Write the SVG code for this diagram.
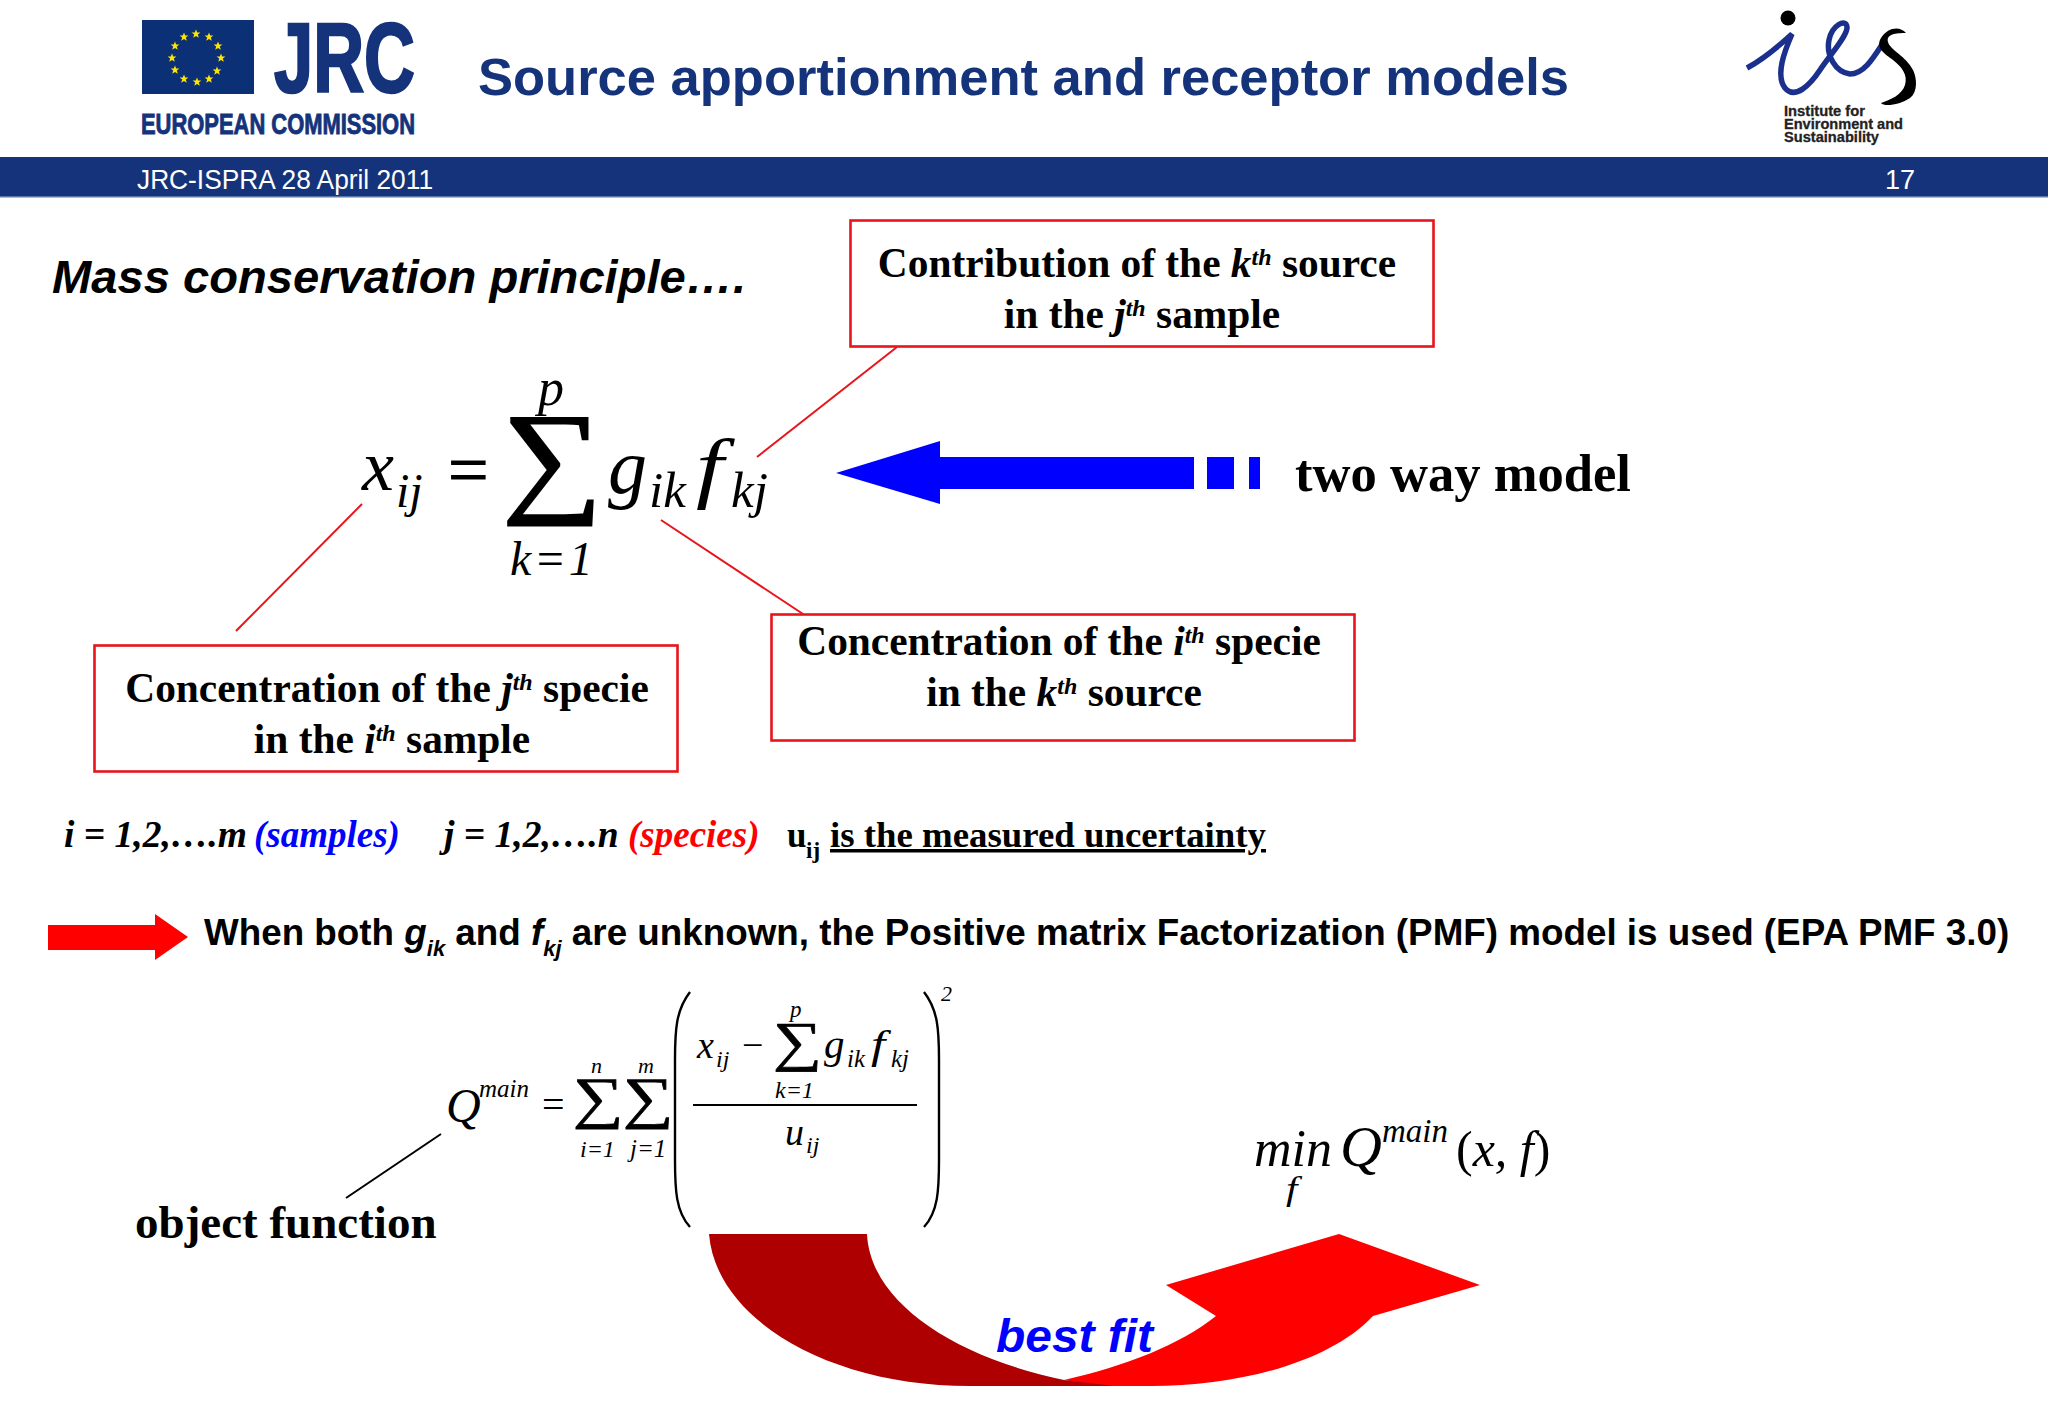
<svg xmlns="http://www.w3.org/2000/svg" xmlns:xlink="http://www.w3.org/1999/xlink" width="2048" height="1418" viewBox="0 0 2048 1418">
<style>
.sans{font-family:"Liberation Sans",Arial,sans-serif}
.serif{font-family:"Liberation Serif","Times New Roman",serif}
.b{font-weight:700}
.i{font-style:italic}
.box{fill:#fff;stroke:#e8141c;stroke-width:2.6}
.lead{stroke:#e8141c;stroke-width:2;fill:none}
.m{font-family:"Liberation Serif","Times New Roman",serif;font-style:italic;fill:#000}
.n{font-style:normal}
.navy{fill:#14337a}
.lbl{font-family:"Liberation Serif","Times New Roman",serif;font-weight:700;font-size:41.4px;fill:#000;text-anchor:middle}
.sup{font-size:24px;font-style:italic}
.it{font-style:italic}
</style>
<defs>
<polygon id="star" points="0,-4.6 1.2,-1.5 4.4,-1.4 1.8,0.6 2.8,3.8 0,1.9 -2.8,3.8 -1.8,0.6 -4.4,-1.4 -1.2,-1.5" fill="#ffe600"/>
</defs>
<rect width="2048" height="1418" fill="#fff"/>

<g id="header">
<rect x="0" y="157" width="2048" height="40" class="navy"/>
<rect x="0" y="196" width="2048" height="1.5" fill="#5a78b0"/>
<text x="137" y="189" class="sans" font-size="27" fill="#fff" textLength="296" lengthAdjust="spacingAndGlyphs">JRC-ISPRA 28 April 2011</text>
<text x="1885" y="189" class="sans" font-size="27" fill="#fff">17</text>
<text x="478" y="95" class="sans b navy" font-size="52" textLength="1091" lengthAdjust="spacingAndGlyphs">Source apportionment and receptor models</text>
</g>

<g id="logo-jrc">
<rect x="142" y="20" width="112" height="74" fill="#0c3076"/>
<use xlink:href="#star" href="#star" x="196" y="34"/>
<use xlink:href="#star" href="#star" x="209" y="37"/>
<use xlink:href="#star" href="#star" x="218" y="46"/>
<use xlink:href="#star" href="#star" x="221" y="58"/>
<use xlink:href="#star" href="#star" x="217" y="71"/>
<use xlink:href="#star" href="#star" x="209" y="79"/>
<use xlink:href="#star" href="#star" x="197" y="82"/>
<use xlink:href="#star" href="#star" x="184" y="79"/>
<use xlink:href="#star" href="#star" x="175" y="70"/>
<use xlink:href="#star" href="#star" x="172" y="58"/>
<use xlink:href="#star" href="#star" x="175" y="46"/>
<use xlink:href="#star" href="#star" x="184" y="37"/>
<text x="274" y="92" class="sans b navy" font-size="98" stroke="#14337a" stroke-width="2.5" textLength="141" lengthAdjust="spacingAndGlyphs">JRC</text>
<text x="141" y="134" class="sans b navy" font-size="29" stroke="#14337a" stroke-width="0.9" textLength="274" lengthAdjust="spacingAndGlyphs">EUROPEAN COMMISSION</text>
</g>

<g id="logo-ies">
<circle cx="1788" cy="18" r="7.5" fill="#000"/>
<path d="M1747,68 C1762,60 1780,45 1792,34 C1785,50 1775,75 1785,88 C1795,100 1810,85 1820,70 C1830,55 1848,35 1847,27 C1846,18 1832,25 1829,40 C1826,55 1835,72 1850,74 C1865,74 1875,55 1885,40" fill="none" stroke="#1b2f8c" stroke-width="5.5"/>
<path d="M1906,33 C1900,26 1888,27 1881,38 C1875,48 1885,54 1893,60 C1902,67 1908,75 1905,85 C1902,95 1890,100 1881,103 C1884,107 1900,105 1910,98 C1918,92 1917,78 1913,70 C1906,56 1890,50 1888,42 C1886,34 1896,33 1906,33Z" fill="#000"/>
<text x="1784" y="116" class="sans b" font-size="14" fill="#222" stroke="#222" stroke-width="0.3" textLength="81" lengthAdjust="spacingAndGlyphs">Institute for</text>
<text x="1784" y="129" class="sans b" font-size="14" fill="#222" stroke="#222" stroke-width="0.3" textLength="119" lengthAdjust="spacingAndGlyphs">Environment and</text>
<text x="1784" y="142" class="sans b" font-size="14" fill="#222" stroke="#222" stroke-width="0.3" textLength="95" lengthAdjust="spacingAndGlyphs">Sustainability</text>
</g>

<g id="heading">
<text x="52" y="293" class="sans b i" font-size="46" fill="#000" textLength="694" lengthAdjust="spacingAndGlyphs">Mass conservation principle….</text>
</g>

<g id="connectors">
<line class="lead" x1="757" y1="457" x2="897" y2="347"/>
<line class="lead" x1="362" y1="504" x2="236" y2="631"/>
<line class="lead" x1="661" y1="520" x2="803" y2="614"/>
<line x1="441" y1="1134" x2="346" y2="1198" stroke="#000" stroke-width="2"/>
</g>

<g id="box-contribution">
<rect class="box" x="850.5" y="220.5" width="583" height="126"/>
<text class="lbl" x="1137" y="277">Contribution of the <tspan class="it">k</tspan><tspan class="sup" dy="-12">th</tspan><tspan dy="12"> source</tspan></text>
<text class="lbl" x="1142" y="328">in the <tspan class="it">j</tspan><tspan class="sup" dy="-12">th</tspan><tspan dy="12"> sample</tspan></text>
</g>

<g id="box-concentration-sample">
<rect class="box" x="94.5" y="645.5" width="583" height="126"/>
<text class="lbl" x="387" y="702">Concentration of the <tspan class="it">j</tspan><tspan class="sup" dy="-12">th</tspan><tspan dy="12"> specie</tspan></text>
<text class="lbl" x="392" y="753">in the <tspan class="it">i</tspan><tspan class="sup" dy="-12">th</tspan><tspan dy="12"> sample</tspan></text>
</g>

<g id="box-concentration-source">
<rect class="box" x="771.5" y="614.5" width="583" height="126"/>
<text class="lbl" x="1059" y="655">Concentration of the <tspan class="it">i</tspan><tspan class="sup" dy="-12">th</tspan><tspan dy="12"> specie</tspan></text>
<text class="lbl" x="1064" y="706">in the <tspan class="it">k</tspan><tspan class="sup" dy="-12">th</tspan><tspan dy="12"> source</tspan></text>
</g>

<g id="equation-main">
<text class="m" x="362" y="490" font-size="72">x</text>
<text class="m" x="396" y="507" font-size="48">ij</text>
<text class="m n" x="448" y="494" font-size="72" stroke="#000" stroke-width="1">=</text>
<text class="m n" transform="translate(502,499) scale(1.135,1)" font-size="124" stroke="#000" stroke-width="2">∑</text>
<text class="m" x="538" y="405" font-size="52">p</text>
<text class="m" x="510" y="575" font-size="48" letter-spacing="2.5">k=1</text>
<text class="m" x="608" y="493" font-size="78">g</text>
<text class="m" x="649" y="507" font-size="51">ik</text>
<text class="m" transform="translate(696,493) scale(1.27,1)" font-size="78">f</text>
<text class="m" x="731" y="507" font-size="51">kj</text>
</g>

<g id="arrow-two-way">
<polygon points="836,473 940,441 940,457 1194,457 1194,489 940,489 940,504" fill="#0000ff"/>
<rect x="1207" y="457" width="27" height="32" fill="#0000ff"/>
<rect x="1249" y="457" width="11" height="32" fill="#0000ff"/>
<text x="1295" y="491" class="serif b" font-size="52.6" fill="#000">two way model</text>
</g>

<g id="indices">
<text x="64" y="847" class="serif b i" font-size="37.5" fill="#000">i = 1,2,….m</text>
<text x="254" y="847" class="serif b i" font-size="37" fill="#0000ff">(samples)</text>
<text x="444" y="847" class="serif b i" font-size="37.5" fill="#000">j = 1,2,….n</text>
<text x="628" y="847" class="serif b i" font-size="37" fill="#ff0000">(species)</text>
<text x="787" y="847" class="serif b" font-size="35" fill="#000">u</text>
<text x="806" y="858" class="serif b" font-size="23" fill="#000">ij</text>
<text x="830" y="847" class="serif b" font-size="35" fill="#000" text-decoration="underline" textLength="436" lengthAdjust="spacingAndGlyphs">is the measured uncertainty</text>
</g>

<g id="pmf-statement">
<polygon points="48,925 155,925 155,914 188,937 155,960 155,950 48,950" fill="#ff0000"/>
<text x="204" y="945" class="sans b" font-size="36.8" fill="#000">When both <tspan class="it">g</tspan><tspan class="it" font-size="22" dy="11">ik</tspan><tspan dy="-11"> and </tspan><tspan class="it">f</tspan><tspan class="it" font-size="22" dy="11">kj</tspan><tspan dy="-11"> are unknown, the Positive matrix Factorization (PMF) model is used (EPA PMF 3.0)</tspan></text>
</g>

<g id="equation-q">
<text class="m" x="446" y="1122" font-size="48">Q</text>
<text class="m" x="479" y="1097" font-size="25">main</text>
<text class="m n" x="542" y="1118" font-size="40">=</text>
<text class="m n" transform="translate(573,1117) scale(1.25,1)" font-size="57" stroke="#000" stroke-width="0.7">∑</text>
<text class="m n" transform="translate(623,1117) scale(1.25,1)" font-size="57" stroke="#000" stroke-width="0.7">∑</text>
<text class="m" x="591" y="1073" font-size="22">n</text>
<text class="m" x="638" y="1073" font-size="22">m</text>
<text class="m" x="580" y="1157" font-size="24">i=1</text>
<text class="m" x="630" y="1157" font-size="25">j=1</text>
<path d="M690,992 C676,1010 675,1030 675,1060 L675,1160 C675,1190 676,1212 690,1227" fill="none" stroke="#000" stroke-width="2.4"/>
<path d="M924,992 C938,1010 939,1030 939,1060 L939,1160 C939,1190 938,1212 924,1227" fill="none" stroke="#000" stroke-width="2.4"/>
<text class="m" x="941" y="1001" font-size="22">2</text>
<text class="m" x="697" y="1058" font-size="38">x</text>
<text class="m" x="716" y="1067" font-size="24">ij</text>
<text class="m n" x="742" y="1058" font-size="38">−</text>
<text class="m n" transform="translate(773,1060) scale(1.25,1)" font-size="55" stroke="#000" stroke-width="0.7">∑</text>
<text class="m" x="790" y="1017" font-size="23">p</text>
<text class="m" x="775" y="1098" font-size="24">k=1</text>
<text class="m" x="824" y="1058" font-size="41">g</text>
<text class="m" x="847" y="1067" font-size="25">ik</text>
<text class="m" transform="translate(871,1058) scale(1.25,1)" font-size="41">f</text>
<text class="m" x="891" y="1067" font-size="25">kj</text>
<line x1="693" y1="1105" x2="917" y2="1105" stroke="#000" stroke-width="2"/>
<text class="m" x="785" y="1145" font-size="38">u</text>
<text class="m" x="806" y="1153" font-size="24">ij</text>
</g>

<g id="object-function">
<text x="135" y="1238" class="serif b" font-size="47" fill="#000">object function</text>
</g>

<g id="minimization">
<text class="m" x="1254" y="1166" font-size="52">min</text>
<text class="m" x="1340" y="1166" font-size="58">Q</text>
<text class="m" x="1382" y="1142" font-size="33">main</text>
<text class="m n" x="1456" y="1166" font-size="50">(<tspan class="it">x, f</tspan>)</text>
<text class="m" transform="translate(1286,1200) scale(1.25,1)" font-size="33">f</text>
</g>

<g id="arrow-best-fit">
<path d="M1064,1380 C1125,1366 1180,1345 1216,1316 L1166,1285 L1339,1234 L1480,1285 L1373,1316 C1330,1362 1240,1386 1151,1386 L1100,1386Z" fill="#ff0000"/>
<path d="M709,1234 L867,1234 C870,1300 950,1356 1064,1380 L1114,1386 L970,1386 C830,1386 716,1320 709,1234Z" fill="#ae0000"/>
<text x="996" y="1352" class="sans b i" font-size="47" fill="#0000ff" textLength="157" lengthAdjust="spacingAndGlyphs">best fit</text>
</g>
</svg>
